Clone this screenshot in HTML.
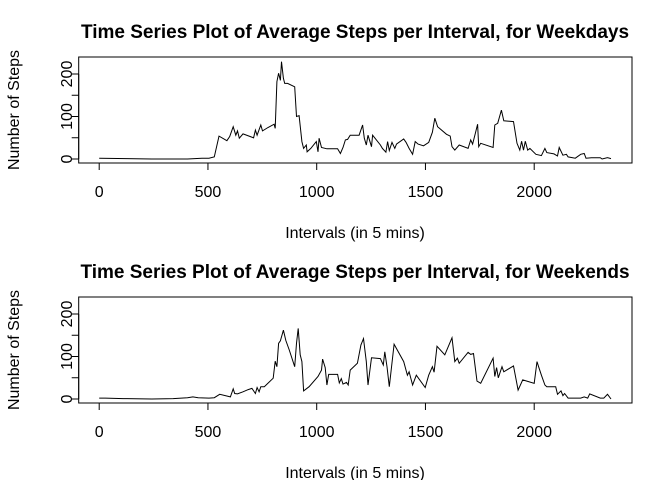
<!DOCTYPE html>
<html><head><meta charset="utf-8"><style>
body{margin:0;background:#fff}
svg{display:block;font-family:"Liberation Sans",Arial,sans-serif}
</style></head><body>
<svg id="c" width="672" height="480"></svg>
<script>
const wdX=[0,127,242,406,472,505,529,551,587,600,616,628,636,644,661,694,710,718,726,743,751,776,804,809,817,825,833,838,847,853,866,899,907,919,932,940,952,956,973,998,1006,1011,1022,1047,1096,1109,1121,1132,1142,1154,1195,1211,1219,1228,1236,1252,1257,1293,1302,1318,1326,1334,1346,1359,1367,1400,1411,1425,1441,1453,1466,1491,1515,1532,1543,1556,1597,1614,1622,1635,1655,1696,1708,1717,1729,1740,1745,1754,1811,1819,1832,1849,1860,1905,1921,1934,1942,1951,1959,1970,1980,2008,2033,2049,2058,2091,2107,2115,2132,2148,2156,2189,2214,2230,2238,2263,2304,2312,2337,2353];
const wdY=[2,1,0,0,2,2,5,54,43,53,76,56,66,49,59,53,50,68,56,80,66,74,82,72,182,202,185,229,190,178,178,170,100,102,41,25,33,17,25,41,17,49,27,24,24,13,27,45,46,56,56,80,49,33,56,29,56,33,25,16,41,20,39,25,35,47,39,25,11,41,35,31,39,63,96,76,58,54,29,21,33,25,45,35,60,82,29,37,27,80,84,115,90,88,37,21,42,21,42,21,25,11,8,25,15,12,7,27,9,11,5,2,11,13,2,3,3,0,3,1];
const weX=[0,28,110,242,340,406,431,455,505,529,554,603,616,623,636,661,685,702,718,726,735,743,759,800,809,817,825,833,847,858,874,899,907,915,924,932,940,965,1006,1022,1027,1039,1047,1055,1096,1104,1113,1121,1137,1145,1154,1187,1203,1215,1228,1236,1252,1293,1306,1313,1323,1334,1356,1400,1417,1425,1441,1458,1499,1515,1532,1540,1553,1589,1622,1635,1647,1655,1696,1708,1721,1737,1754,1811,1819,1827,1835,1852,1860,1905,1926,1947,2000,2013,2020,2033,2049,2058,2099,2107,2123,2132,2140,2156,2214,2230,2246,2255,2304,2320,2337,2353];
const weY=[2,2,1,0,1,3,5,3,2,3,11,5,24,13,12,17,22,25,13,27,17,29,29,49,89,76,131,137,162,138,115,76,131,166,104,88,19,29,53,68,94,74,33,58,58,38,48,35,39,33,68,84,127,142,88,33,97,95,80,111,76,29,129,88,56,64,33,56,27,56,76,63,124,104,144,88,96,84,110,105,107,42,37,96,53,74,50,76,64,78,21,45,37,88,76,56,33,29,29,11,19,8,13,2,2,5,2,12,2,2,11,0];
const xTicks=[0,500,1000,1500,2000];
const yTicks=[0,50,100,150,200];
const yLabels=[0,100,200];

const NS='http://www.w3.org/2000/svg';
const svg=document.getElementById('c');
function mk(t,a,p){const e=document.createElementNS(NS,t);for(const k in a)e.setAttribute(k,a[k]);(p||svg).appendChild(e);return e;}
const L=78.7,R=632,xScale=v=>99.2+v*0.2175;

function panel(off,xs,ys,title,tag){
  const g=mk('g',{});
  
  
  const yScale=v=>159+off-v*0.425;
  const t=mk('text',{x:355,y:38+off,'text-anchor':'middle','font-size':'19','font-weight':'bold'},g);
  t.textContent=title;
  
  
  const box=mk('rect',{x:L,y:57+off,width:R-L,height:106,fill:'none',stroke:'#000','stroke-width':1},g);
  
  
  const xa=mk('g',{},g);
  
  
  mk('line',{x1:xScale(xTicks[0]),x2:xScale(xTicks[xTicks.length-1]),y1:163+off,y2:163+off,stroke:'#000'},xa);
  xTicks.forEach(v=>{
    mk('line',{x1:xScale(v),x2:xScale(v),y1:163+off,y2:170+off,stroke:'#000'},xa);
    const tx=mk('text',{x:xScale(v),y:197+off,'text-anchor':'middle','font-size':'16'},xa);
    tx.textContent=v;
    
    
  });
  const xl=mk('text',{x:355,y:238+off,'text-anchor':'middle','font-size':'16'},g);
  xl.textContent='Intervals (in 5 mins)';
  
  
  const ya=mk('g',{},g);
  
  
  mk('line',{x1:L,x2:L,y1:yScale(0),y2:yScale(200),stroke:'#000'},ya);
  yTicks.forEach(v=>mk('line',{x1:L,x2:L-7,y1:yScale(v),y2:yScale(v),stroke:'#000'},ya));
  yLabels.forEach(v=>{
    const y=yScale(v);
    const tx=mk('text',{x:0,y:0,transform:`translate(72,${y}) rotate(-90)`,'text-anchor':'middle','font-size':'16'},ya);
    tx.textContent=v;
    
    
  });
  const yl=mk('text',{x:0,y:0,transform:`translate(19,${110+off}) rotate(-90)`,'text-anchor':'middle','font-size':'16'},g);
  yl.textContent='Number of Steps';
  
  
  const pts=xs.map((x,i)=>xScale(x).toFixed(1)+','+yScale(ys[i]).toFixed(1)).join(' ');
  const pl=mk('polyline',{points:pts,fill:'none',stroke:'#000','stroke-width':1},g);
  
  
}
panel(0,wdX,wdY,'Time Series Plot of Average Steps per Interval, for Weekdays','weekday');
panel(240,weX,weY,'Time Series Plot of Average Steps per Interval, for Weekends','weekend');
</script>
</body></html>
